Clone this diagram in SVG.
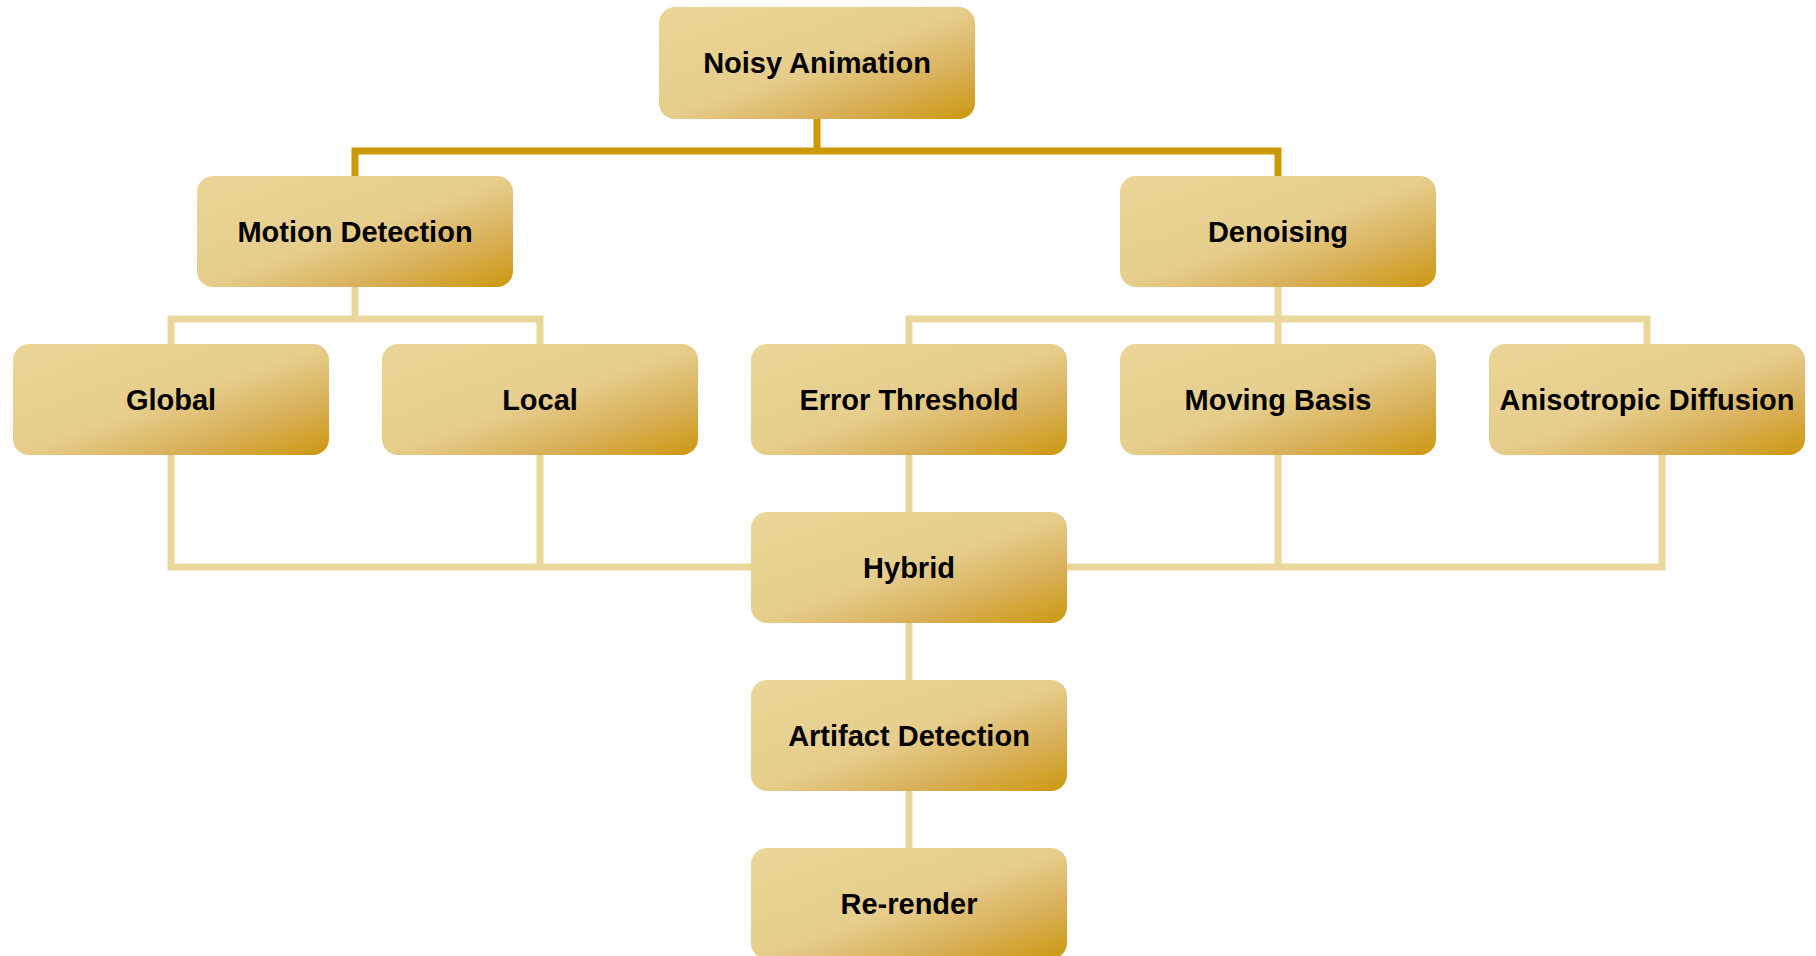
<svg xmlns="http://www.w3.org/2000/svg" width="1816" height="956" viewBox="0 0 1816 956">
<defs>
<linearGradient id="g" x1="0" y1="0" x2="1" y2="1">
<stop offset="0" stop-color="#EAD697"/>
<stop offset="0.5" stop-color="#E6CD8C"/>
<stop offset="0.75" stop-color="#D9B059"/>
<stop offset="1" stop-color="#CC980F"/>
</linearGradient>
<style>
.box{fill:url(#g);}
.t{font-family:"Liberation Sans",Arial,sans-serif;font-weight:bold;font-size:29px;fill:#000;text-anchor:middle;}
.dk{fill:none;stroke:#CC9900;stroke-width:7;}
.lt{fill:none;stroke:#EBD79B;stroke-width:7;}
</style>
</defs>
<rect width="1816" height="956" fill="#FFFFFF"/>
<g id="connectors">
<polyline class="dk" points="817,119 817,151"/>
<polyline class="dk" points="355,176 355,151 1278,151 1278,176"/>
<polyline class="lt" points="355,287 355,319"/>
<polyline class="lt" points="171,344 171,319 540,319 540,344"/>
<polyline class="lt" points="1278,287 1278,344"/>
<polyline class="lt" points="909,344 909,319 1647,319 1647,344"/>
<polyline class="lt" points="171,455 171,567 751,567"/>
<polyline class="lt" points="540,455 540,567"/>
<polyline class="lt" points="909,455 909,512"/>
<polyline class="lt" points="1067,567 1662,567 1662,455"/>
<polyline class="lt" points="1278,455 1278,567"/>
<polyline class="lt" points="909,623 909,680"/>
<polyline class="lt" points="909,791 909,848"/>
</g>
<g id="noisy-animation"><rect class="box" x="659" y="7" width="316" height="112" rx="16"/><text class="t" x="817" y="73">Noisy Animation</text></g>
<g id="motion-detection"><rect class="box" x="197" y="176" width="316" height="111" rx="16"/><text class="t" x="355" y="242">Motion Detection</text></g>
<g id="denoising"><rect class="box" x="1120" y="176" width="316" height="111" rx="16"/><text class="t" x="1278" y="242">Denoising</text></g>
<g id="global"><rect class="box" x="13" y="344" width="316" height="111" rx="16"/><text class="t" x="171" y="410">Global</text></g>
<g id="local"><rect class="box" x="382" y="344" width="316" height="111" rx="16"/><text class="t" x="540" y="410">Local</text></g>
<g id="error-threshold"><rect class="box" x="751" y="344" width="316" height="111" rx="16"/><text class="t" x="909" y="410">Error Threshold</text></g>
<g id="moving-basis"><rect class="box" x="1120" y="344" width="316" height="111" rx="16"/><text class="t" x="1278" y="410">Moving Basis</text></g>
<g id="anisotropic-diffusion"><rect class="box" x="1489" y="344" width="316" height="111" rx="16"/><text class="t" x="1647" y="410">Anisotropic Diffusion</text></g>
<g id="hybrid"><rect class="box" x="751" y="512" width="316" height="111" rx="16"/><text class="t" x="909" y="578">Hybrid</text></g>
<g id="artifact-detection"><rect class="box" x="751" y="680" width="316" height="111" rx="16"/><text class="t" x="909" y="746">Artifact Detection</text></g>
<g id="re-render"><rect class="box" x="751" y="848" width="316" height="111" rx="16"/><text class="t" x="909" y="914">Re-render</text></g>
</svg>
